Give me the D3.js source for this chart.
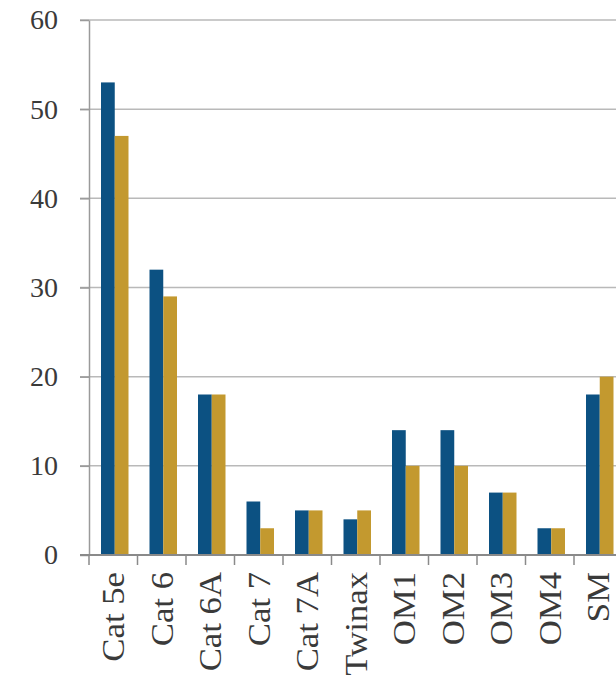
<!DOCTYPE html>
<html>
<head>
<meta charset="utf-8">
<script src="https://cdn.jsdelivr.net/npm/d3@7"></script>
<style>
  body { margin: 0; background: #fff; }
  svg { display: block; }
</style>
</head>
<body>
<svg></svg>
<script>
var categories = ["Cat 5e", "Cat 6", "Cat 6A", "Cat 7", "Cat 7A", "Twinax", "OM1", "OM2", "OM3", "OM4", "SM"];
var seriesA = [53, 32, 18, 6, 5, 4, 14, 14, 7, 3, 18];
var seriesB = [47, 29, 18, 3, 5, 5, 10, 10, 7, 3, 20];
var yTicks = [0, 10, 20, 30, 40, 50, 60];

var width = 616;
var height = 686;
var plotLeft = 89;
var plotTop = 20;
var plotBottom = 555;
var band = 48.5;

var svg = d3.select('svg')
    .attr('width', width)
    .attr('height', height);

var xScale = d3.scaleBand()
    .domain(categories)
    .range([plotLeft, plotLeft + band * categories.length])
    .paddingInner(0)
    .paddingOuter(0);

// two bars side by side inside each band
var inner = d3.scaleBand()
    .domain(["a", "b"])
    .range([12, 39.5])
    .padding(0);

var yScale = d3.scaleLinear()
    .domain([0, 60])
    .range([plotBottom, plotTop]);

// gridlines
svg.append('g')
    .selectAll('line')
    .data(yTicks.slice(1))
    .enter()
    .append('line')
        .attr('x1', plotLeft - 9)
        .attr('x2', width)
        .attr('y1', d => yScale(d))
        .attr('y2', d => yScale(d))
        .attr('stroke', '#b9b9b9')
        .attr('stroke-width', 1.5);

var yAxis = d3.axisLeft(yScale)
    .tickValues(yTicks)
    .tickSize(9)
    .tickPadding(22)
    .tickSizeOuter(0);

var gy = svg.append('g')
    .attr('transform', 'translate(' + plotLeft + ',0)')
    .call(yAxis);
gy.select('.domain').attr('stroke', '#9a9a9a').attr('stroke-width', 1.5);
gy.selectAll('.tick line').attr('stroke', '#9a9a9a').attr('stroke-width', 1.5);
gy.selectAll('text')
    .attr('fill', '#3a3a3a')
    .style('font-family', '"Liberation Serif", "Times New Roman", serif')
    .style('font-size', '28px');

var groups = svg.append('g')
    .selectAll('g')
    .data(categories)
    .enter()
    .append('g')
        .attr('transform', d => 'translate(' + xScale(d) + ',0)');

groups.append('rect')
    .attr('x', inner('a'))
    .attr('width', inner.bandwidth())
    .attr('y', (d, i) => yScale(seriesA[i]))
    .attr('height', (d, i) => yScale(0) - yScale(seriesA[i]))
    .attr('fill', '#0c5182');

groups.append('rect')
    .attr('x', inner('b'))
    .attr('width', inner.bandwidth())
    .attr('y', (d, i) => yScale(seriesB[i]))
    .attr('height', (d, i) => yScale(0) - yScale(seriesB[i]))
    .attr('fill', '#c3992f');

// x axis with ticks at band edges
var xg = svg.append('g');
xg.append('line')
    .attr('x1', plotLeft - 9)
    .attr('x2', width)
    .attr('y1', plotBottom)
    .attr('y2', plotBottom)
    .attr('stroke', '#8a8a8a')
    .attr('stroke-width', 2);
xg.selectAll('line.tk')
    .data(categories)
    .enter()
    .append('line')
        .attr('class', 'tk')
        .attr('x1', d => xScale(d))
        .attr('x2', d => xScale(d))
        .attr('y1', plotBottom)
        .attr('y2', plotBottom + 10)
        .attr('stroke', '#8a8a8a')
        .attr('stroke-width', 1.5);

xg.selectAll('text')
    .data(categories)
    .enter()
    .append('text')
        .attr('transform', d => 'translate(' + (xScale(d) + band / 2) + ',' + (plotBottom + 17) + ') rotate(-90) scale(1.12,1)')
        .attr('dy', '0.35em')
        .attr('text-anchor', 'end')
        .attr('fill', '#3a3a3a')
        .style('font-family', '"Liberation Serif", "Times New Roman", serif')
        .style('font-size', '31px')
        .text(d => d);
</script>
</body>
</html>
